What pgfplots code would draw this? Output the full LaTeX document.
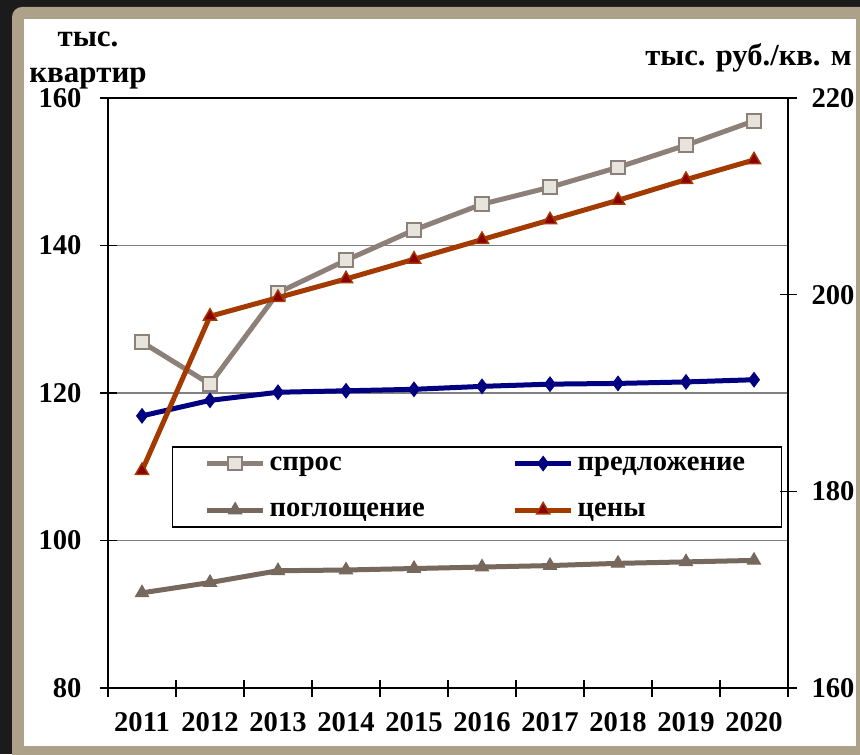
\documentclass[border=0pt]{standalone}
\usepackage{pgfplots}
\pgfplotsset{compat=1.18}
\usepackage{pgfplotstable}
\usepackage{fontspec}
\setmainfont{Liberation Serif}

\definecolor{bgdark}{HTML}{1B1B1B}
\definecolor{frametan}{HTML}{ADA189}
\definecolor{demand}{HTML}{8C8078}
\definecolor{demandfill}{HTML}{E6E4DC}
\definecolor{supply}{HTML}{000080}
\definecolor{absorb}{HTML}{76685C}
\definecolor{price}{HTML}{A33A00}
\definecolor{pricefill}{HTML}{8B0000}

% 0 = 2011 ... 9 = 2020
\pgfplotstableread{
x demand supply absorb price
0 126.9 116.9 92.9 182.1
1 121.2 119.0 94.3 197.8
2 133.6 120.1 95.9 199.7
3 138.0 120.3 96.0 201.6
4 142.1 120.5 96.2 203.6
5 145.6 120.9 96.4 205.6
6 147.9 121.2 96.6 207.6
7 150.6 121.3 96.9 209.6
8 153.6 121.5 97.1 211.7
9 156.9 121.8 97.3 213.7
}\data

\pgfplotsset{
  common/.style={
    scale only axis, width=340pt, height=295pt,
    at={(54pt,33pt)}, anchor=south west,
    xmin=-0.5, xmax=9.5,
    tick align=center, major tick length=8.5pt, minor tick length=8.5pt,
    tick style={black, line width=0.75pt},
    axis line style={line width=0.75pt},
    /pgf/number format/assume math mode=true,
    ticklabel style={font=\fontsize{14.3}{17}\selectfont\bfseries},
  },
  pdemand/.style={demand, line width=2.5pt, mark=square*, mark size=3.4pt,
    mark options={fill=demandfill, draw=demand, line width=1pt}},
  psupply/.style={supply, line width=2.5pt, mark=diamond*, mark size=3.6pt,
    mark options={fill=supply, draw=supply, line width=0.5pt}},
  pabsorb/.style={absorb, line width=2.5pt, mark=triangle*, mark size=3.8pt,
    mark options={fill=absorb, draw=absorb, line width=0.5pt}},
  pprice/.style={price, line width=2.5pt, mark=triangle*, mark size=3.8pt,
    mark options={fill=pricefill, draw=price, line width=0.7pt}},
}

\begin{document}
\begin{tikzpicture}[x=0.5pt,y=0.5pt,font=\fontsize{14}{17}\selectfont\bfseries]
\useasboundingbox (0,0) rectangle (860,754);
\fill[bgdark] (0,0) rectangle (860,754);
\fill[frametan,rounded corners=5pt] (12,-10) rectangle (875,747);
\fill[white] (24,8) rectangle (856,735);

\begin{axis}[common,
  ymin=80, ymax=160, ytick={80,100,...,160},
  ymajorgrids, grid style={gray, line width=0.75pt},
  ytick pos=left, xtick pos=bottom,
  yticklabel style={xshift=-5.5pt},
  xticklabel style={yshift=-4.5pt},
  xtick={0,...,9},
  xticklabels={2011,2012,2013,2014,2015,2016,2017,2018,2019,2020},
  major x tick style={draw=none},
  minor xtick={-0.5,0.5,...,9.5},
  legend columns=2,
  legend image code/.code={
    \draw[mark repeat=2,mark phase=2,#1] plot coordinates {(0pt,0pt) (14pt,0pt) (28pt,0pt)};},
  legend style={at={(0.094,0.272)}, anchor=south west, draw=black, fill=white,
    line width=0.75pt, inner xsep=16pt, inner ysep=3pt,
    font=\fontsize{14.3}{17}\selectfont\bfseries,
    nodes={text width=84pt, align=left, inner xsep=2pt, text depth=0pt},
    /tikz/every even column/.append style={column sep=35.5pt},
    row sep=12.5pt},
]
\addplot[pdemand] table[x=x, y=demand] {\data};
\addlegendentry{спрос}
\addplot[psupply] table[x=x, y=supply] {\data};
\addlegendentry{предложение}
\addplot[pabsorb] table[x=x, y=absorb] {\data};
\addlegendentry{поглощение}
\addlegendimage{pprice}
\addlegendentry{цены}
\end{axis}

\begin{axis}[common,
  ymin=160, ymax=220, ytick={160,180,200,220},
  axis y line*=right, axis x line=none,
  yticklabel style={xshift=4pt},
]
\addplot[pprice] table[x=x, y=price] {\data};
\end{axis}

\node[anchor=base, inner sep=0pt, font=\fontsize{15.5}{18}\selectfont\bfseries] at (88,707) {тыс.};
\node[anchor=base, inner sep=0pt, font=\fontsize{15.5}{18}\selectfont\bfseries] at (88,671) {квартир};
\node[anchor=base east, inner sep=0pt, font=\fontsize{15.3}{18}\selectfont\bfseries] at (852,688) {тыс. руб./кв. м};
\end{tikzpicture}
\end{document}
